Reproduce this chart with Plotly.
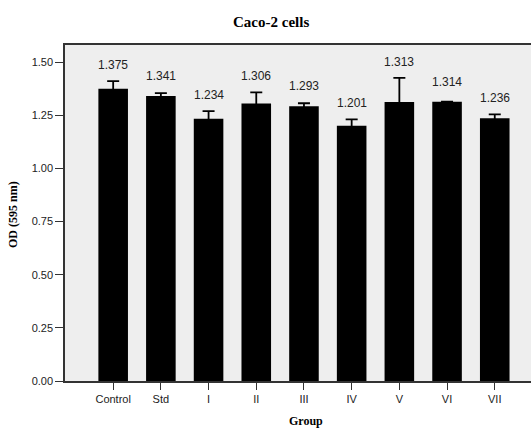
import plotly.graph_objects as go

groups = ["Control", "Std", "I", "II", "III", "IV", "V", "VI", "VII"]
od_mean = [1.375, 1.341, 1.234, 1.306, 1.293, 1.201, 1.313, 1.314, 1.236]
od_err = [0.036, 0.014, 0.036, 0.052, 0.014, 0.030, 0.113, 0.0, 0.019]
y_ticks = [0.0, 0.25, 0.5, 0.75, 1.0, 1.25, 1.5]

W, H = 531, 428
L, R, T, B = 65, 0, 45, 47
pw = W - L - R

fig = go.Figure()
fig.add_trace(go.Bar(
    x=list(range(len(groups))), y=od_mean,
    marker=dict(color="#000000", line=dict(width=0)),
    error_y=dict(type="data", array=[e if e > 0 else None for e in od_err],
                 visible=True, color="#000000", thickness=1.8, width=6),
    width=0.62,
    showlegend=False,
))

annotations = []
for i, (m, e) in enumerate(zip(od_mean, od_err)):
    ly = max(m + 0.095, m + e + 0.075)
    annotations.append(dict(x=i, y=ly, xref="x", yref="y", text=f"{m:.3f}",
                            showarrow=False, yanchor="middle",
                            font=dict(family="Liberation Sans, Arial", size=12, color="#222222")))

def px2paper_x(px):
    return (px - L) / pw

annotations.append(dict(x=px2paper_x(271), y=1, xref="paper", yref="paper", yshift=23,
                        text="<b>Caco-2 cells</b>", showarrow=False, yanchor="middle",
                        font=dict(family="Liberation Serif, Times New Roman", size=15, color="#000")))
annotations.append(dict(x=px2paper_x(306), y=0, xref="paper", yref="paper", yshift=-40,
                        text="<b>Group</b>", showarrow=False, yanchor="middle",
                        font=dict(family="Liberation Serif, Times New Roman", size=12, color="#000")))
annotations.append(dict(x=px2paper_x(13), y=0.5, xref="paper", yref="paper", yshift=(381 - 45) / 2 - (381 - 211),
                        text="<b>OD (595 nm)</b>", showarrow=False, textangle=-90,
                        xanchor="center", yanchor="middle",
                        font=dict(family="Liberation Serif, Times New Roman", size=12, color="#000")))

fig.update_layout(
    width=W, height=H,
    margin=dict(l=L, r=R, t=T, b=B),
    paper_bgcolor="white",
    plot_bgcolor="#EEEEEE",
    annotations=annotations,
    xaxis=dict(
        range=[-1.01, 8.76],
        tickmode="array", tickvals=list(range(len(groups))), ticktext=groups,
        showgrid=False, zeroline=False,
        showline=True, linecolor="#333333", linewidth=1.5, mirror=True,
        ticks="outside", ticklen=7, tickcolor="#333333", tickwidth=1,
        tickfont=dict(family="Liberation Sans, Arial", size=11, color="#222222"),
    ),
    yaxis=dict(
        range=[0, 1.581],
        tickmode="array", tickvals=y_ticks, ticktext=[f"{v:.2f}" for v in y_ticks],
        showgrid=False, zeroline=False,
        showline=True, linecolor="#333333", linewidth=1.5,
        ticks="outside", ticklen=8, tickcolor="#333333", tickwidth=1,
        tickfont=dict(family="Liberation Sans, Arial", size=11, color="#222222"),
    ),
)

fig.write_html(
    "out.html",
    config={"displayModeBar": False},
    post_script="document.body.style.margin='0';document.body.style.overflow='hidden';",
)
